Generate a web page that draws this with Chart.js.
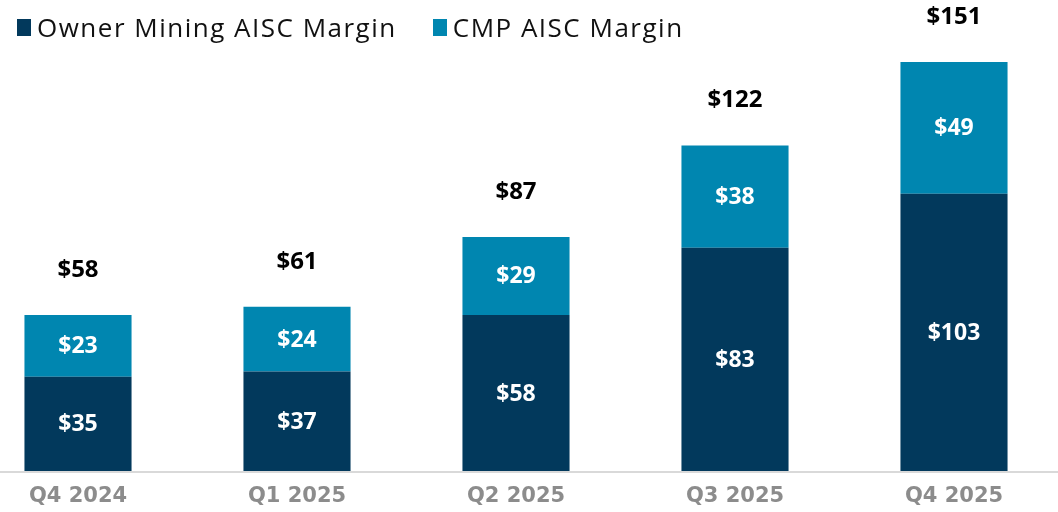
<!DOCTYPE html>
<html>
<head>
<meta charset="utf-8">
<script src="https://cdn.jsdelivr.net/npm/chart.js@4/dist/chart.umd.min.js"></script>
<style>
  html, body { margin: 0; padding: 0; background: #fff; }
  #wrap { position: relative; width: 1058px; height: 512px; }
  .legend { position: absolute; top: 9px; left: 17px; font-family: 'Open Sans', sans-serif; font-size: 26px; letter-spacing: 1.5px; color: #111; display: flex; align-items: center; }
  .legend span.sw { display: inline-block; width: 14px; height: 17px; margin-right: 6px; }
  .legend .item { display: flex; align-items: center; margin-right: 36px; }
</style>
</head>
<body>
<div id="wrap">
  <canvas id="chart" width="1058" height="512"></canvas>
  <div class="legend">
    <div class="item"><span class="sw" style="background:#02395c"></span>Owner Mining AISC Margin</div>
    <div class="item"><span class="sw" style="background:#0086b0"></span>CMP AISC Margin</div>
  </div>
</div>
<script>
// quarterly AISC margins ($/oz)
const quarters = ['Q4 2024', 'Q1 2025', 'Q2 2025', 'Q3 2025', 'Q4 2025'];
const ownerMargin = [35, 37, 58, 83, 103];
const cmpMargin = [23, 24, 29, 38, 49];
const totals = [58, 61, 87, 122, 151];

const DARK = '#02395c';
const LIGHT = '#0086b0';

// baseline rule, value labels inside segments and totals on top
const labelPlugin = {
    id: 'labels',
    beforeDatasetsDraw(chart) {
        const ctx = chart.ctx;
        const y0 = chart.scales.y.getPixelForValue(0);
        ctx.save();
        ctx.strokeStyle = '#d9d9d9';
        ctx.lineWidth = 2;
        ctx.beginPath();
        ctx.moveTo(0, y0 + 1);
        ctx.lineTo(chart.width, y0 + 1);
        ctx.stroke();
        ctx.restore();
    },
    afterDatasetsDraw(chart) {
        const ctx = chart.ctx;
        ctx.save();
        ctx.textAlign = 'center';
        ctx.textBaseline = 'middle';
        ctx.fillStyle = '#fff';
        ctx.font = "bold 23px 'Open Sans', sans-serif";
        chart.data.datasets.forEach((ds, di) => {
            chart.getDatasetMeta(di).data.forEach((bar, i) => {
                const mid = (bar.y + bar.base) / 2;
                ctx.fillText('$' + ds.data[i], bar.x, mid + 1);
            });
        });
        ctx.fillStyle = '#000';
        ctx.font = "bold 24px 'Open Sans', sans-serif";
        chart.getDatasetMeta(1).data.forEach((bar, i) => {
            ctx.fillText('$' + totals[i], bar.x, bar.y - 45);
        });
        ctx.restore();
    }
};

new Chart(document.getElementById('chart'), {
    type: 'bar',
    data: {
        labels: quarters,
        datasets: [
            { label: 'Owner Mining AISC Margin', data: ownerMargin, backgroundColor: DARK, clip: false },
            { label: 'CMP AISC Margin', data: cmpMargin, backgroundColor: LIGHT, clip: false }
        ]
    },
    options: {
        responsive: false,
        animation: false,
        categoryPercentage: 1,
        barPercentage: 0.489,
        layout: { padding: { top: 27, bottom: 0, left: 78, right: 104 } },
        plugins: { legend: { display: false }, tooltip: { enabled: false } },
        scales: {
            x: {
                stacked: true,
                offset: false,
                grid: { display: false, drawTicks: false, tickLength: 0 },
                border: { display: false },
                afterFit(scale) { scale.height = 41; },
                ticks: {
                    color: '#8c8c8c',
                    padding: 13,
                    maxRotation: 0,
                    font: { family: "'DejaVu Sans', sans-serif", size: 21, weight: 'bold' }
                }
            },
            y: {
                stacked: true,
                display: false,
                min: 0,
                max: 165
            }
        }
    },
    plugins: [labelPlugin]
});
</script>
</body>
</html>
